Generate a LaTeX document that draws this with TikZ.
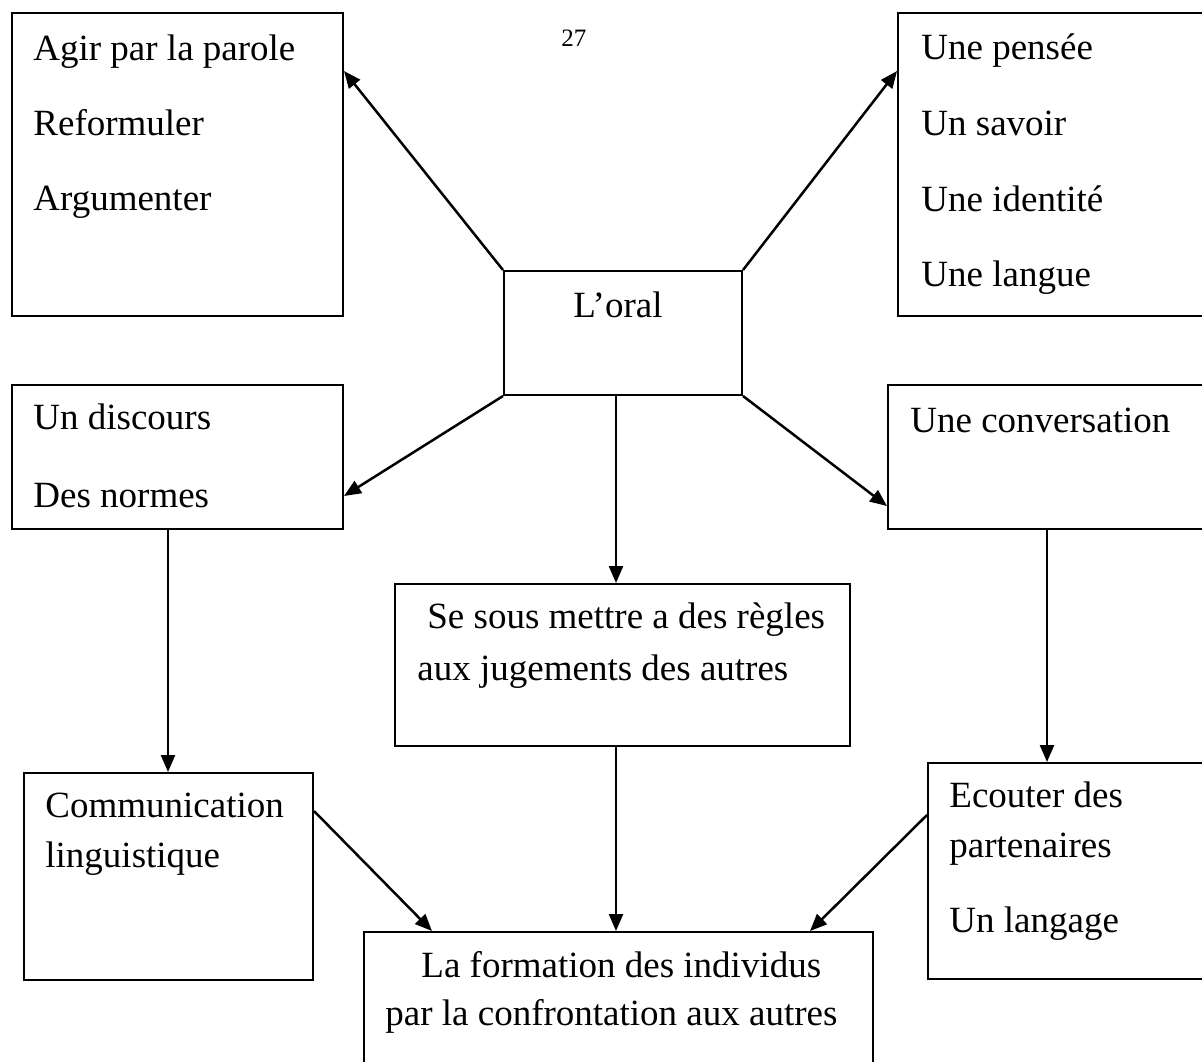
\documentclass[tikz,border=0pt]{standalone}
\usepackage{fontspec}
\setmainfont{Liberation Serif}
\usetikzlibrary{arrows.meta,calc,fit}
\tikzset{
  boxn/.style={draw=black,line width=1pt,inner sep=0pt,rectangle},
  lbl/.style={inner sep=0pt,anchor=base west,font=\fontsize{18.5}{22}\selectfont},
  pagenum/.style={inner sep=0pt,anchor=base west,font=\fontsize{12.5}{15}\selectfont},
  conn/.style={line width=1.25pt,-{Triangle[length=8.5pt,width=7pt]}}
}
\begin{document}
\begin{tikzpicture}[x=0.5pt,y=-0.5pt]
\useasboundingbox (0,0) rectangle (1202,1061);
\clip (0,0) rectangle (1202,1061);
\fill[white] (0,0) rectangle (1202,1061);
% boxes
\node[boxn,fit={(12,13) (343,316)}] (agir) {};
\node[boxn,fit={(898,13) (1220,316)}] (pensee) {};
\node[boxn,fit={(504,271) (742,395)}] (oral) {};
\node[boxn,fit={(12,385) (343,529)}] (discours) {};
\node[boxn,fit={(888,385) (1220,529)}] (conv) {};
\node[boxn,fit={(395,584) (850,746)}] (regles) {};
\node[boxn,fit={(24,773) (313,980)}] (comm) {};
\node[boxn,fit={(928,763) (1220,979)}] (ecouter) {};
\node[boxn,fit={(364,932) (873,1090)}] (formation) {};
% texts
\node[pagenum] (num) at (561,46) {27};
\node[lbl] (t1) at (33,60) {Agir par la parole};
\node[lbl] (t2) at (33,135) {Reformuler};
\node[lbl] (t3) at (33,210) {Argumenter};
\node[lbl] (t4) at (921,59) {Une pensée};
\node[lbl] (t5) at (921,135) {Un savoir};
\node[lbl] (t6) at (921,211) {Une identité};
\node[lbl] (t7) at (921,286) {Une langue};
\node[lbl,anchor=base] (t8) at (618,317) {L’oral};
\node[lbl] (t9) at (33,429) {Un discours};
\node[lbl] (t10) at (33,507) {Des normes};
\node[lbl] (t11) at (910,432) {Une conversation};
\node[lbl] (t12) at (427,628) {Se sous mettre a des règles};
\node[lbl] (t13) at (417,680) {aux jugements des autres};
\node[lbl] (t14) at (45,817) {Communication};
\node[lbl] (t15) at (45,867) {linguistique};
\node[lbl] (t16) at (949,807) {Ecouter des};
\node[lbl] (t17) at (949,857) {partenaires};
\node[lbl] (t18) at (949,932) {Un langage};
\node[lbl] (t19) at (421,977) {La formation des individus};
\node[lbl] (t20) at (385,1025) {par la confrontation aux autres};
% connectors
\draw[conn] (oral.north west) -- ($(agir.north east)+(0,59)$);
\draw[conn] (oral.north east) -- ($(pensee.north west)+(0,59)$);
\draw[conn] (oral.south west) -- ($(discours.north east)+(0,112)$);
\draw[conn] (oral.south east) -- ($(conv.north west)+(0,122)$);
\draw[conn] ($(oral.south west)+(113,0)$) -- ($(regles.north west)+(222,0)$);
\draw[conn] ($(discours.south west)+(157,0)$) -- ($(comm.north west)+(145,0)$);
\draw[conn] ($(conv.south west)+(160,0)$) -- ($(ecouter.north west)+(120,0)$);
\draw[conn] ($(regles.south west)+(222,0)$) -- ($(formation.north west)+(253,0)$);
\draw[conn] ($(comm.north east)+(0,39)$) -- ($(formation.north west)+(69,0)$);
\draw[conn] ($(ecouter.north west)+(0,53)$) -- ($(formation.north west)+(447,0)$);
\end{tikzpicture}
\end{document}
